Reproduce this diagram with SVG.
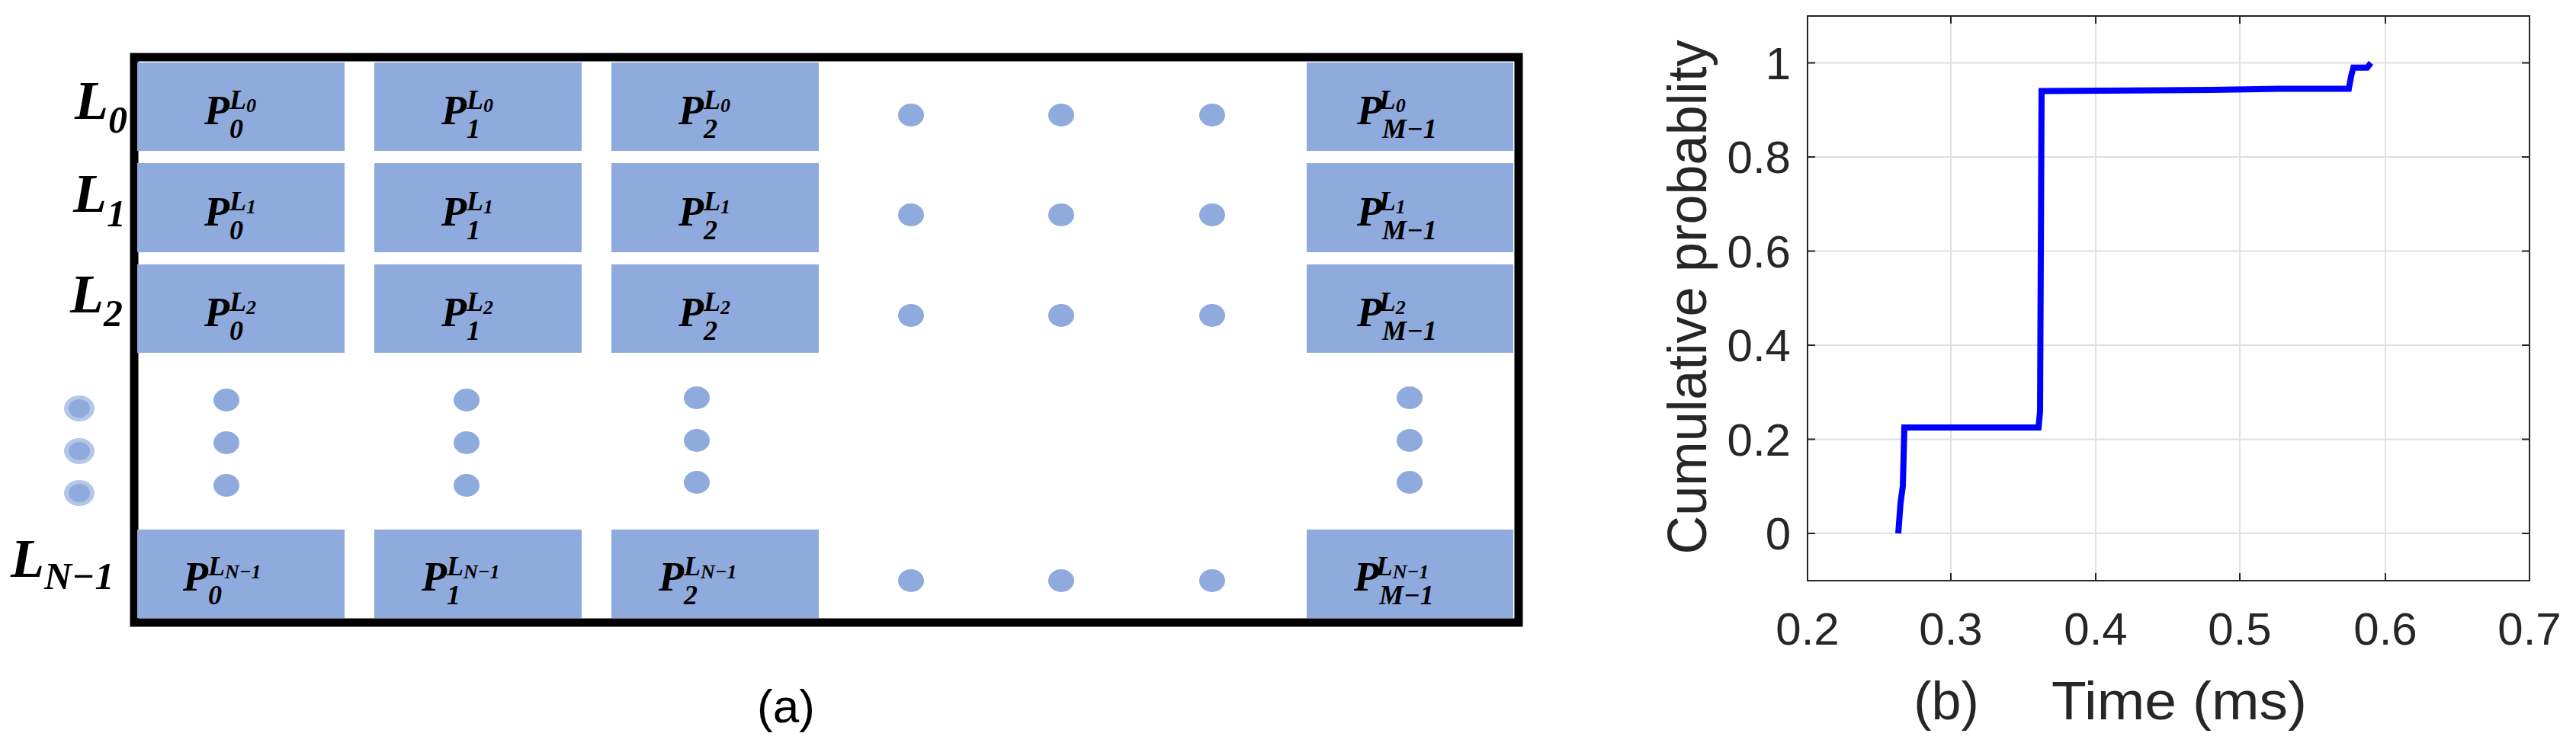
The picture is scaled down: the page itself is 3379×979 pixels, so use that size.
<svg xmlns="http://www.w3.org/2000/svg" width="3379" height="979" viewBox="0 0 3379 979">
<style>
.b{fill:#8FAADC}
.m{font-family:"Liberation Serif",serif;font-weight:bold;font-style:italic;fill:#000}
.p{font-size:54px}
.s{font-size:36px}
.rl{font-size:72px}
.rs{font-size:50px}
.t{font-family:"Liberation Sans",Arial,sans-serif;fill:#262626}
.g{stroke:#e0e0e0;stroke-width:2}
</style>
<rect width="3379" height="979" fill="#fff"/>
<g id="panel-a">
<rect x="176" y="75" width="1816" height="742" fill="none" stroke="#000" stroke-width="11"/>
<g id="row-labels" class="m">
<text x="98" y="156" class="rl">L<tspan class="rs" dy="18">0</tspan></text>
<text x="96" y="278" class="rl">L<tspan class="rs" dy="19">1</tspan></text>
<text x="92" y="410" class="rl">L<tspan class="rs" dy="18">2</tspan></text>
<text x="14" y="757" class="rl">L<tspan class="rs" dy="16">N−1</tspan></text>
</g>
<g id="cells">
<g id="r0"><rect class="b" x="180" y="82" width="272" height="116"/><rect class="b" x="491" y="82" width="272" height="116"/><rect class="b" x="802" y="82" width="272" height="116"/><rect class="b" x="1714" y="82" width="271" height="116"/></g>
<g id="r1"><rect class="b" x="180" y="214" width="272" height="117"/><rect class="b" x="491" y="214" width="272" height="117"/><rect class="b" x="802" y="214" width="272" height="117"/><rect class="b" x="1714" y="214" width="271" height="117"/></g>
<g id="r2"><rect class="b" x="180" y="347" width="272" height="116"/><rect class="b" x="491" y="347" width="272" height="116"/><rect class="b" x="802" y="347" width="272" height="116"/><rect class="b" x="1714" y="347" width="271" height="116"/></g>
<g id="rN"><rect class="b" x="180" y="695" width="272" height="116"/><rect class="b" x="491" y="695" width="272" height="116"/><rect class="b" x="802" y="695" width="272" height="116"/><rect class="b" x="1714" y="695" width="271" height="116"/></g>
</g>
<g id="cell-labels" class="m">
<text x="268" y="163" class="p">P<tspan class="s" dy="18">0</tspan><tspan class="s" dx="-18" dy="-38">L</tspan><tspan font-size="26" dy="4">0</tspan></text>
<text x="579" y="163" class="p">P<tspan class="s" dy="18">1</tspan><tspan class="s" dx="-18" dy="-38">L</tspan><tspan font-size="26" dy="4">0</tspan></text>
<text x="890" y="163" class="p">P<tspan class="s" dy="18">2</tspan><tspan class="s" dx="-18" dy="-38">L</tspan><tspan font-size="26" dy="4">0</tspan></text>
<text x="1780" y="163" class="p">P<tspan class="s" dy="18">M−1</tspan><tspan class="s" dx="-76" dy="-38">L</tspan><tspan font-size="26" dy="4">0</tspan></text>
<text x="268" y="296" class="p">P<tspan class="s" dy="18">0</tspan><tspan class="s" dx="-18" dy="-38">L</tspan><tspan font-size="26" dy="4">1</tspan></text>
<text x="579" y="296" class="p">P<tspan class="s" dy="18">1</tspan><tspan class="s" dx="-18" dy="-38">L</tspan><tspan font-size="26" dy="4">1</tspan></text>
<text x="890" y="296" class="p">P<tspan class="s" dy="18">2</tspan><tspan class="s" dx="-18" dy="-38">L</tspan><tspan font-size="26" dy="4">1</tspan></text>
<text x="1780" y="296" class="p">P<tspan class="s" dy="18">M−1</tspan><tspan class="s" dx="-76" dy="-38">L</tspan><tspan font-size="26" dy="4">1</tspan></text>
<text x="268" y="428" class="p">P<tspan class="s" dy="18">0</tspan><tspan class="s" dx="-18" dy="-38">L</tspan><tspan font-size="26" dy="4">2</tspan></text>
<text x="579" y="428" class="p">P<tspan class="s" dy="18">1</tspan><tspan class="s" dx="-18" dy="-38">L</tspan><tspan font-size="26" dy="4">2</tspan></text>
<text x="890" y="428" class="p">P<tspan class="s" dy="18">2</tspan><tspan class="s" dx="-18" dy="-38">L</tspan><tspan font-size="26" dy="4">2</tspan></text>
<text x="1780" y="428" class="p">P<tspan class="s" dy="18">M−1</tspan><tspan class="s" dx="-76" dy="-38">L</tspan><tspan font-size="26" dy="4">2</tspan></text>
<text x="240" y="775" class="p">P<tspan class="s" dy="18">0</tspan><tspan class="s" dx="-18" dy="-38">L</tspan><tspan font-size="26" dy="4">N−1</tspan></text>
<text x="553" y="775" class="p">P<tspan class="s" dy="18">1</tspan><tspan class="s" dx="-18" dy="-38">L</tspan><tspan font-size="26" dy="4">N−1</tspan></text>
<text x="864" y="775" class="p">P<tspan class="s" dy="18">2</tspan><tspan class="s" dx="-18" dy="-38">L</tspan><tspan font-size="26" dy="4">N−1</tspan></text>
<text x="1776" y="775" class="p">P<tspan class="s" dy="18">M−1</tspan><tspan class="s" dx="-76" dy="-38">L</tspan><tspan font-size="26" dy="4">N−1</tspan></text>
</g>
<g id="dots" class="b">
<ellipse cx="1195" cy="151" rx="17" ry="15"/><ellipse cx="1392" cy="151" rx="17" ry="15"/><ellipse cx="1590" cy="151" rx="17" ry="15"/>
<ellipse cx="1195" cy="282" rx="17" ry="15"/><ellipse cx="1392" cy="282" rx="17" ry="15"/><ellipse cx="1590" cy="282" rx="17" ry="15"/>
<ellipse cx="1195" cy="414" rx="17" ry="15"/><ellipse cx="1392" cy="414" rx="17" ry="15"/><ellipse cx="1590" cy="414" rx="17" ry="15"/>
<ellipse cx="1195" cy="762" rx="17" ry="15"/><ellipse cx="1392" cy="762" rx="17" ry="15"/><ellipse cx="1590" cy="762" rx="17" ry="15"/>
<ellipse cx="297" cy="525" rx="17" ry="15"/><ellipse cx="297" cy="581" rx="17" ry="15"/><ellipse cx="297" cy="637" rx="17" ry="15"/>
<ellipse cx="612" cy="525" rx="17" ry="15"/><ellipse cx="612" cy="581" rx="17" ry="15"/><ellipse cx="612" cy="637" rx="17" ry="15"/>
<ellipse cx="914" cy="522" rx="17" ry="15"/><ellipse cx="914" cy="578" rx="17" ry="15"/><ellipse cx="914" cy="633" rx="17" ry="15"/>
<ellipse cx="1849" cy="522" rx="17" ry="15"/><ellipse cx="1849" cy="578" rx="17" ry="15"/><ellipse cx="1849" cy="633" rx="17" ry="15"/>
<g fill="#B4C7E7"><ellipse cx="104" cy="536" rx="20" ry="17"/><ellipse cx="104" cy="592" rx="20" ry="17"/><ellipse cx="104" cy="647" rx="20" ry="17"/></g>
<ellipse cx="104" cy="536" rx="14" ry="12"/><ellipse cx="104" cy="592" rx="14" ry="12"/><ellipse cx="104" cy="647" rx="14" ry="12"/>
</g>
<text x="1031" y="948" font-size="62" text-anchor="middle" font-family="Liberation Sans,Arial,sans-serif">(a)</text>
</g>
<g id="panel-b">
<g id="grid">
<line class="g" x1="2559" y1="21" x2="2559" y2="762"/><line class="g" x1="2749" y1="21" x2="2749" y2="762"/><line class="g" x1="2938" y1="21" x2="2938" y2="762"/><line class="g" x1="3129" y1="21" x2="3129" y2="762"/>
<line class="g" x1="2371" y1="82.5" x2="3318" y2="82.5"/><line class="g" x1="2371" y1="206" x2="3318" y2="206"/><line class="g" x1="2371" y1="329.5" x2="3318" y2="329.5"/><line class="g" x1="2371" y1="453" x2="3318" y2="453"/><line class="g" x1="2371" y1="576.5" x2="3318" y2="576.5"/><line class="g" x1="2371" y1="700" x2="3318" y2="700"/>
</g>
<rect x="2371" y="21" width="947" height="741" fill="none" stroke="#262626" stroke-width="2"/>
<g id="ticks" stroke="#262626" stroke-width="2">
<path d="M2559 762v-10M2749 762v-10M2938 762v-10M3129 762v-10M2559 21v10M2749 21v10M2938 21v10M3129 21v10"/>
<path d="M2371 82.5h10M2371 206h10M2371 329.5h10M2371 453h10M2371 576.5h10M2371 700h10M3318 82.5h-10M3318 206h-10M3318 329.5h-10M3318 453h-10M3318 576.5h-10M3318 700h-10"/>
</g>
<polyline id="cdf" fill="none" stroke="#0000ff" stroke-width="8" points="2490,700 2493,660 2496,638 2498,561 2674,561 2676,540 2678,119.5 2900,118 2990,116.5 3081,116.5 3084,100 3087,88.7 3105,88.7 3110,82.5"/>
<g class="t" font-size="60" text-anchor="middle">
<text x="2371" y="846">0.2</text><text x="2559" y="846">0.3</text><text x="2749" y="846">0.4</text><text x="2938" y="846">0.5</text><text x="3129" y="846">0.6</text><text x="3318" y="846">0.7</text>
</g>
<g class="t" font-size="60" text-anchor="end">
<text x="2349" y="104">1</text><text x="2349" y="227">0.8</text><text x="2349" y="351">0.6</text><text x="2349" y="474">0.4</text><text x="2349" y="598">0.2</text><text x="2349" y="721">0</text>
</g>
<text class="t" transform="translate(2238,390) rotate(-90)" font-size="72" text-anchor="middle" textLength="675" lengthAdjust="spacingAndGlyphs">Cumulative probablity</text>
<text class="t" x="2553" y="944" font-size="70" text-anchor="middle" fill="#000">(b)</text>
<text class="t" x="2691" y="944" font-size="70" textLength="335" lengthAdjust="spacingAndGlyphs">Time (ms)</text>
</g>
</svg>
